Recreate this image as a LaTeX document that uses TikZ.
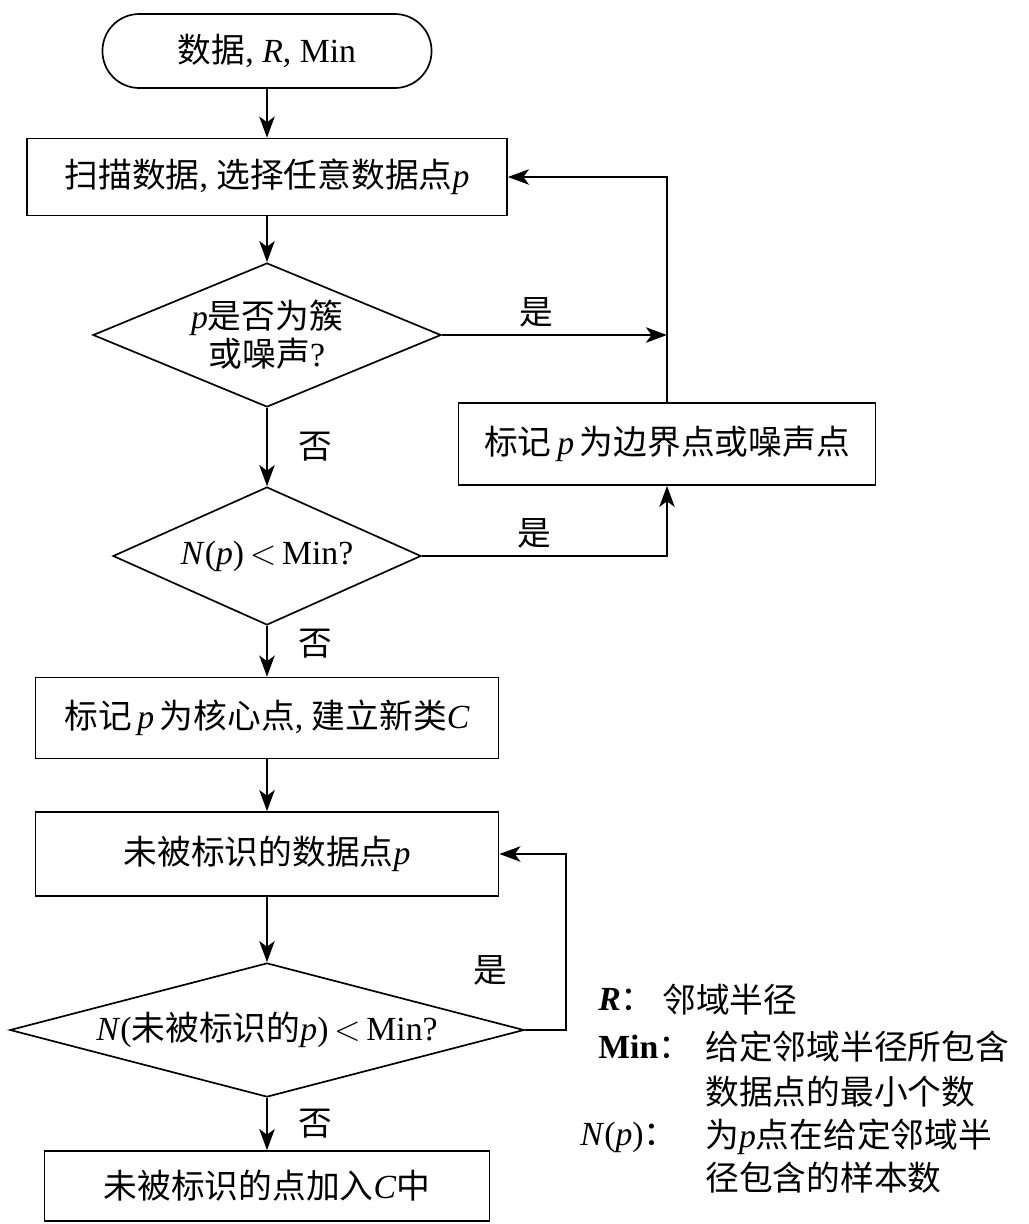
\documentclass[tikz,border=0pt]{standalone}
\usepackage{fontspec}
\setmainfont{Liberation Serif}
\newfontfamily\cjk{Noto Sans CJK SC}
\usepackage{tikz}
\usetikzlibrary{shapes.geometric, arrows.meta, positioning}
\newcommand{\zh}[1]{{\cjk #1}}
\tikzset{
  blk/.style={rectangle, draw, line width=1.2pt, align=center, font={\fontsize{24}{27}\selectfont}, inner sep=2pt},
  term/.style={blk, rounded corners=0.92cm, minimum width=8.225cm, minimum height=1.85cm},
  proc/.style={blk, minimum height=2cm},
  dec/.style={diamond, draw, line width=1.2pt, align=center, font={\fontsize{24}{27}\selectfont}, inner sep=0pt},
  lab/.style={font={\fontsize{24}{27}\selectfont}, inner sep=0pt},
  leg/.style={font={\fontsize{24}{27}\selectfont}, inner sep=0pt, anchor=west},
  arr/.style={-{Stealth[length=15pt, width=11pt, inset=4pt]}, line width=1.2pt},
}
\begin{document}
\begin{tikzpicture}[x=0.025cm, y=-0.025cm]
  \useasboundingbox (0,0) rectangle (1028,1224);
  % main column
  \node[term] (start) at (267,51) {\zh{数据}, \textit{R}, Min};
  \node[proc, minimum width=12cm, minimum height=1.925cm] (scan) at (267,177) {\zh{扫描数据}, \zh{选择任意数据点}\textit{p}};
  \node[dec, minimum width=8.7cm, minimum height=3.6cm, aspect=2.42] (iscl) at (267,335) {\textit{p}\zh{是否为簇}\\\zh{或噪声}?};
  \node[proc, minimum width=10.425cm, minimum height=2.05cm] (border) at (667,444) {\zh{标记}\,\textit{p}\,\zh{为边界点或噪声点}};
  \node[dec, minimum width=7.7cm, minimum height=3.45cm, aspect=2.23] (nmin) at (267,556) {\textit{N}(\textit{p})\,$<$\,Min?};
  \node[proc, minimum width=11.575cm, minimum height=2.025cm] (core) at (267,718) {\zh{标记}\,\textit{p}\,\zh{为核心点}, \zh{建立新类}\textit{C}};
  \node[proc, minimum width=11.575cm, minimum height=2.1cm] (unl) at (267,854) {\zh{未被标识的数据点}\textit{p}};
  \node[dec, minimum width=12.85cm, minimum height=3.35cm, aspect=3.84] (nunl) at (267,1030) {\textit{N}(\zh{未被标识的}\textit{p})\,$<$\,Min?};
  \node[proc, minimum width=11.125cm, minimum height=1.75cm] (addc) at (267,1186) {\zh{未被标识的点加入}\textit{C}\zh{中}};
  \coordinate (loop) at (566,854);
  \node[lab] (yes3) at (490,970) {\zh{是}};
  % legend
  \node[leg] (legR) at (598,1000) {\textbf{\textit{R}}\zh{：}};
  \node[leg] (legRtx) at (662,1000) {\zh{邻域半径}};
  \node[leg] (legM) at (598,1047) {\textbf{Min}\zh{：}};
  \node[leg] (legMtx) at (705,1047) {\zh{给定邻域半径所包含}};
  \node[leg] (legMtx2) at (705,1092) {\zh{数据点的最小个数}};
  \node[leg] (legN) at (580,1137) {\textit{N}(\textit{p})\zh{：}};
  \node[leg] (legNtx) at (705,1137) {\zh{为}\textit{p}\zh{点在给定邻域半}};
  \node[leg] (legNtx2) at (705,1178) {\zh{径包含的样本数}};
  % connectors
  \draw[arr] (start) -- (scan);
  \draw[arr] (scan) -- (iscl);
  \draw[arr] (iscl) -- node[lab, above=5pt, pos=0.42]{\zh{是}} (border.north |- iscl.east);
  \draw[arr] (border.north) |- (scan.east);
  \draw[arr] (iscl) -- node[lab, xshift=1.2cm]{\zh{否}} (nmin);
  \draw[arr] (nmin.east) -| node[lab, above=5pt, pos=0.23]{\zh{是}} (border.south);
  \draw[arr] (nmin) -- node[lab, xshift=1.2cm, yshift=0.2cm]{\zh{否}} (core);
  \draw[arr] (core) -- (unl);
  \draw[arr] (unl) -- (nunl);
  \draw[arr] (nunl.east) -| (loop) -- (unl.east);
  \draw[arr] (nunl) -- node[lab, xshift=1.2cm]{\zh{否}} (addc);
\end{tikzpicture}
\end{document}
